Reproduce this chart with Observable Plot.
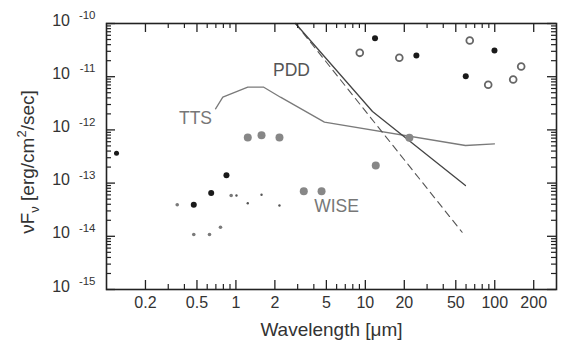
<!DOCTYPE html>
<html><head><meta charset="utf-8">
<script src="https://cdn.jsdelivr.net/npm/d3@7"></script>
<script src="https://cdn.jsdelivr.net/npm/@observablehq/plot@0.6"></script>
<style>body{margin:0;background:#fff;}#chart svg{display:block;}</style>
</head><body><div id="chart"></div>
<script>
// ---- data (wavelength in micron, nuFnu in erg/cm^2/s) ----
const blackX = [0.1195, 0.4725, 0.644, 0.845, 11.88, 24.8, 59.7, 99.5];
const blackY = [3.65e-13, 3.93e-14, 6.52e-14, 1.41e-13, 5.29e-11, 2.5e-11, 1.02e-11, 3.11e-11];
const blackSize = ["s", "l", "l", "l", "l", "l", "l", "l"];

const openX = [9.06, 18.3, 64.1, 89, 138.8, 160];
const openY = [2.81e-11, 2.27e-11, 4.79e-11, 7.05e-12, 8.86e-12, 1.55e-11];

const grayX = [1.235, 1.577, 2.17, 12.04, 21.9, 3.345, 4.59];
const grayY = [7.2e-13, 7.95e-13, 7.2e-13, 2.14e-13, 7.1e-13, 7.05e-14, 7.05e-14];

const smallX = [0.352, 0.4725, 0.625, 0.76, 0.919];
const smallY = [3.91e-14, 1.08e-14, 1.08e-14, 1.48e-14, 5.85e-14];

const tinyX = [1.01, 1.235, 1.577, 2.17];
const tinyY = [5.85e-14, 4.19e-14, 6.03e-14, 3.79e-14];

const ttsX = [0.696, 0.792, 1.235, 1.642, 2.21, 4.83, 59.4, 99.5];
const ttsY = [2.49e-12, 4.12e-12, 6.35e-12, 6.35e-12, 4.12e-12, 1.4e-12, 5.09e-13, 5.48e-13];

const pddX = [2.887, 11.36, 59.4];
const pddY = [1e-10, 2.22e-12, 9.0e-14];

const pddDashX = [2.887, 56.0];
const pddDashY = [1e-10, 1.19e-14];

const labelText = ["PDD", "TTS", "WISE"];
const labelX = [2.688, 0.487, 5.99];
const labelY = [1.31e-11, 1.64e-12, 3.59e-14];
const labelColor = ["#555", "#777", "#777"];

const xMajor = [0.2, 0.5, 1, 2, 5, 10, 20, 50, 100, 200];
const xMinor = [0.3, 0.4, 0.6, 0.7, 0.8, 0.9, 3, 4, 6, 7, 8, 9, 30, 40, 60, 70, 80, 90];
const yMajor = [1e-15, 1e-14, 1e-13, 1e-12, 1e-11, 1e-10];
const yMinor = [-15, -14, -13, -12, -11].flatMap(e => [2,3,4,5,6,7,8,9].map(m => m * Math.pow(10, e)));

const xTitle = "Wavelength [μm]";

// ---- build tables ----
const zip = (xs, ys) => xs.map((x, i) => ({x, y: ys[i]}));
const black = blackX.map((x, i) => ({x, y: blackY[i], s: blackSize[i]}));
const opens = zip(openX, openY);
const grays = zip(grayX, grayY);
const smalls = zip(smallX, smallY);
const tinys = zip(tinyX, tinyY);
const tts = zip(ttsX, ttsY);
const pdd = zip(pddX, pddY);
const pddDash = zip(pddDashX, pddDashY);
const labels = labelText.map((t, i) => ({t, x: labelX[i], y: labelY[i], c: labelColor[i]}));

const W = 570, H = 351, mT = 23, mB = 62, mL = 106, mR = 14;
const innerH = H - mT - mB, innerW = W - mL - mR;
const ink = "#222";
const maj = 9, mnr = 5;

const chart = Plot.plot({
  width: W, height: H,
  marginTop: mT, marginBottom: mB, marginLeft: mL, marginRight: mR,
  style: {fontFamily: "'Liberation Sans', Arial, Helvetica, sans-serif", background: "#fff"},
  x: {type: "log", domain: [0.1, 300], axis: null},
  y: {type: "log", domain: [1e-15, 1e-10], axis: null},
  color: {type: "identity"},
  marks: [
    // lines
    Plot.line(tts, {x: "x", y: "y", stroke: "#7a7a7a", strokeWidth: 1.3}),
    Plot.line(pddDash, {x: "x", y: "y", stroke: "#555", strokeWidth: 1.1, strokeDasharray: "7,5"}),
    Plot.line(pdd, {x: "x", y: "y", stroke: "#444", strokeWidth: 1.3}),
    // points
    Plot.dot(tinys, {x: "x", y: "y", r: 1.2, fill: "#555"}),
    Plot.dot(smalls, {x: "x", y: "y", r: 1.8, fill: "#7a7a7a"}),
    Plot.dot(grays, {x: "x", y: "y", r: 4, fill: "#878787"}),
    Plot.dot(opens, {x: "x", y: "y", r: 3.4, fill: "#fff", stroke: "#666", strokeWidth: 1.8}),
    Plot.dot(black, {x: "x", y: "y", r: d => d.s === "s" ? 2.8 : 4, fill: "#1a1a1a"}),
    // labels
    Plot.text(labels, {x: "x", y: "y", text: "t", fill: "c", fontSize: 17.5}),
    // frame
    Plot.frame({stroke: ink, strokeWidth: 1.6}),
    // inward ticks
    Plot.tickX(xMajor, {x: d => d, insetTop: innerH - maj, stroke: ink, strokeWidth: 1.3}),
    Plot.tickX(xMajor, {x: d => d, insetBottom: innerH - maj, stroke: ink, strokeWidth: 1.3}),
    Plot.tickX(xMinor, {x: d => d, insetTop: innerH - mnr, stroke: ink, strokeWidth: 1.2}),
    Plot.tickX(xMinor, {x: d => d, insetBottom: innerH - mnr, stroke: ink, strokeWidth: 1.2}),
    Plot.tickY(yMajor, {y: d => d, insetRight: innerW - maj, stroke: ink, strokeWidth: 1.3}),
    Plot.tickY(yMajor, {y: d => d, insetLeft: innerW - maj, stroke: ink, strokeWidth: 1.3}),
    Plot.tickY(yMinor, {y: d => d, insetRight: innerW - mnr, stroke: ink, strokeWidth: 1.2}),
    Plot.tickY(yMinor, {y: d => d, insetLeft: innerW - mnr, stroke: ink, strokeWidth: 1.2}),
    // x tick labels
    Plot.text(xMajor, {x: d => d, text: d => String(d), frameAnchor: "bottom", dy: 18, fontSize: 16, fill: "#333"}),
    // y tick labels: 10 with superscript exponent
    Plot.text(yMajor, {y: d => d, text: () => "10", frameAnchor: "left", textAnchor: "end", dx: -36.5, dy: -3, fontSize: 16, fill: "#333"}),
    Plot.text(yMajor, {y: d => d, text: d => String(Math.round(Math.log10(d))), frameAnchor: "left", textAnchor: "end", dx: -11, dy: -8, fontSize: 11.5, fill: "#333"}),
    // x title
    Plot.text([xTitle], {text: d => d, frameAnchor: "bottom", dy: 46, fontSize: 19, fill: "#333"})
  ]
});

// y title with sub/superscripts
const svg = d3.select(chart);
const yt = svg.append("text")
  .attr("transform", `translate(34,${mT + innerH / 2 + 6}) rotate(-90)`)
  .attr("text-anchor", "middle")
  .attr("font-size", 19)
  .attr("fill", "#333")
  .attr("font-family", "'Liberation Sans', Arial, Helvetica, sans-serif");
yt.append("tspan").text("νF");
yt.append("tspan").attr("font-size", 13).attr("dy", 5).text("ν");
yt.append("tspan").attr("dy", -5).text(" [erg/cm");
yt.append("tspan").attr("font-size", 13).attr("dy", -8).text("2");
yt.append("tspan").attr("dy", 8).text("/sec]");

document.getElementById("chart").appendChild(chart);
</script>
</body></html>
